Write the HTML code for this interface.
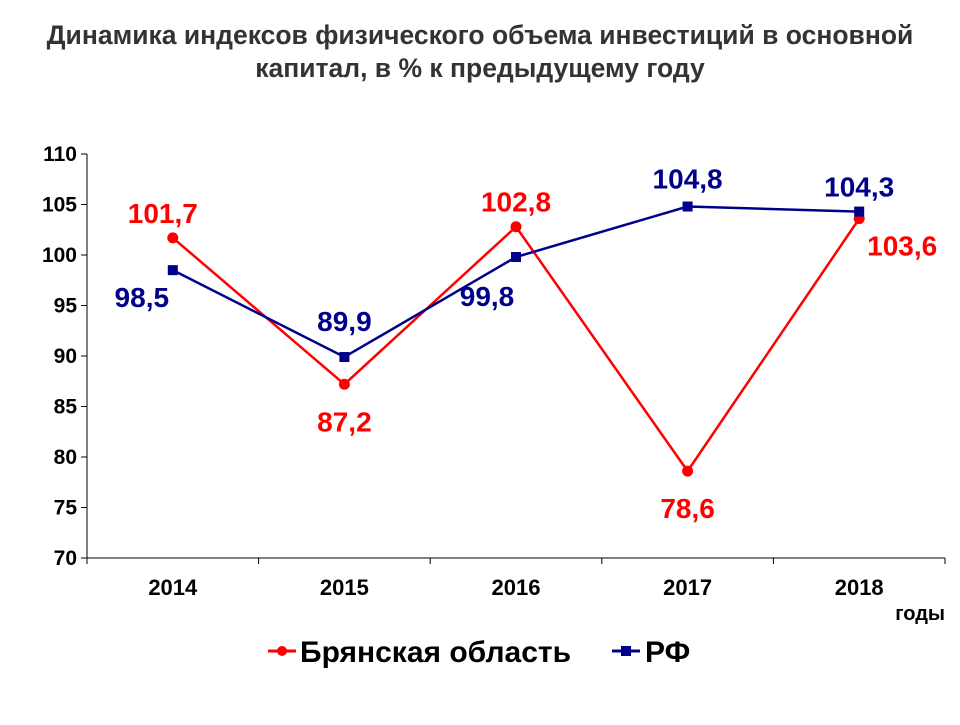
<!DOCTYPE html>
<html><head><meta charset="utf-8"><style>
body{margin:0;background:#fff;width:960px;height:720px;overflow:hidden;font-family:"Liberation Sans",sans-serif}
</style></head><body>
<svg width="960" height="720" xmlns="http://www.w3.org/2000/svg" font-family="Liberation Sans, sans-serif" font-weight="bold">
<text x="480" y="44" text-anchor="middle" font-size="26.5" fill="#333">Динамика индексов физического объема инвестиций в основной</text>
<text x="480" y="77" text-anchor="middle" font-size="26.5" fill="#333">капитал, в % к предыдущему году</text>
<g id="axes"></g><g id="series"></g><g id="labels"></g>
<text x="945" y="620" text-anchor="end" font-size="20" fill="#000">годы</text>
<g>
<g>
<line x1="268" y1="651" x2="296" y2="651" stroke="#ff0000" stroke-width="3"/><circle cx="282" cy="651" r="5" fill="#ff0000"/>
<text x="300" y="662" font-size="30" fill="#000">Брянская область</text></g>
<g>
<line x1="612" y1="651" x2="640" y2="651" stroke="#00008b" stroke-width="3"/><rect x="621" y="646" width="10" height="10" fill="#00008b"/>
<text x="645" y="662" font-size="30" fill="#000">РФ</text></g>
</g>
</svg>
<script>
const categories=["2014","2015","2016","2017","2018"];
const bryansk=[101.7,87.2,102.8,78.6,103.6];
const rf=[98.5,89.9,99.8,104.8,104.3];
const yTicks=[70,75,80,85,90,95,100,105,110];
const NS="http://www.w3.org/2000/svg";
const x0=87,x1=945,yBot=558,yTop=154,yMin=70,yMax=110;
const bw=(x1-x0)/categories.length;
const X=i=>x0+bw*(i+0.5);
const Y=v=>yBot-(v-yMin)/(yMax-yMin)*(yBot-yTop);
function mk(t,a,p){const e=document.createElementNS(NS,t);for(const k in a)e.setAttribute(k,a[k]);p.appendChild(e);return e;}
const ax=document.getElementById('axes');
let e=mk('line',{x1:x0,y1:yTop,x2:x0,y2:yBot,stroke:'#000','stroke-width':1},ax);


e=mk('line',{x1:x0,y1:yBot,x2:x1,y2:yBot,stroke:'#000','stroke-width':1},ax);


yTicks.forEach(v=>{mk('line',{x1:x0-6,y1:Y(v),x2:x0,y2:Y(v),stroke:'#000'},ax);
const t=mk('text',{x:x0-10,y:Y(v)+7,'text-anchor':'end','font-size':21,fill:'#000'},ax);t.textContent=v;

});
for(let i=0;i<=categories.length;i++)mk('line',{x1:x0+bw*i,y1:yBot,x2:x0+bw*i,y2:yBot+6,stroke:'#000'},ax);
categories.forEach((c,i)=>{const t=mk('text',{x:X(i),y:yBot+37,'text-anchor':'middle','font-size':22,fill:'#000'},ax);t.textContent=c;

});
const sg=document.getElementById('series'),lg=document.getElementById('labels');
function series(d,col,name,sq){
const p=mk('polyline',{points:d.map((v,i)=>X(i)+','+Y(v)).join(' '),fill:'none',stroke:col,'stroke-width':2.5},sg);


d.forEach((v,i)=>{let m;if(sq)m=mk('rect',{x:X(i)-5,y:Y(v)-5,width:10,height:10,fill:col},sg);else m=mk('circle',{cx:X(i),cy:Y(v),r:5.5,fill:col},sg);

});}
series(bryansk,'#ff0000','bryansk',false);
series(rf,'#00008b','rf',true);
const bOff=[[-10,-15],[0,47],[0,-15],[0,47],[43,37]];
const rOff=[[-31,37],[0,-26],[-29,49],[0,-18],[0,-15]];
function labels(d,col,off,name){d.forEach((v,i)=>{const t=mk('text',{x:X(i)+off[i][0],y:Y(v)+off[i][1],'text-anchor':'middle','font-size':28,fill:col},lg);
t.textContent=v.toFixed(1).replace('.',',');

});}
labels(bryansk,'#ff0000',bOff,'bryansk');
labels(rf,'#00008b',rOff,'rf');
</script>
</body></html>
